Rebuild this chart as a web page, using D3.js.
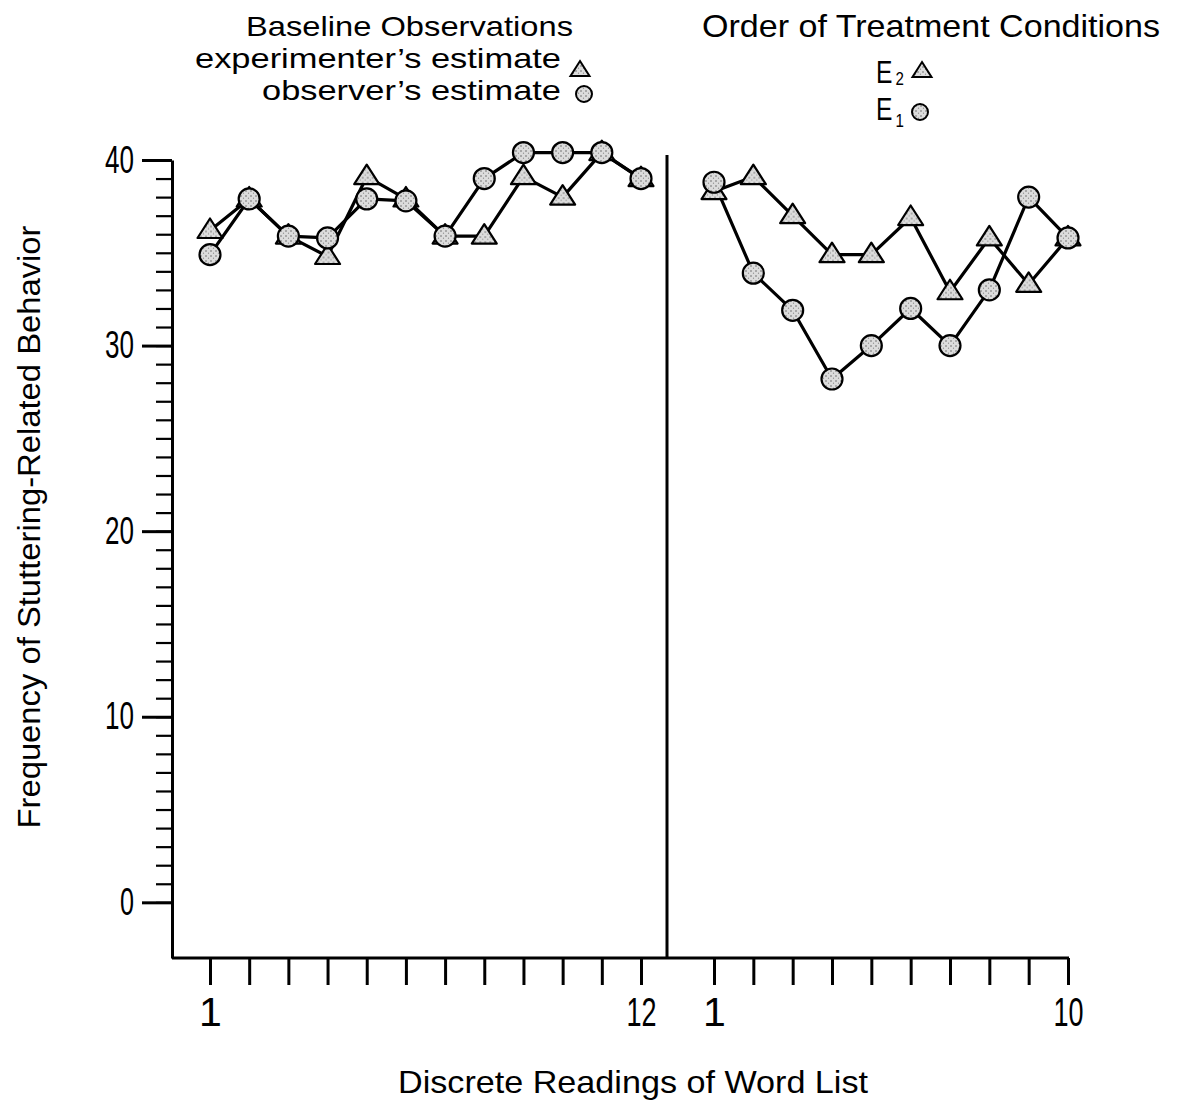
<!DOCTYPE html>
<html>
<head>
<meta charset="utf-8">
<script src="https://cdn.jsdelivr.net/npm/d3@7"></script>
<style>
  body { margin: 0; background: #fff; }
  svg text {
    font-family: "Liberation Sans", "DejaVu Sans Condensed", "DejaVu Sans", sans-serif;
    fill: #000;
  }
</style>
</head>
<body>
<div id="chart"></div>
<script>
// Baseline panel (12 readings)
const baselineReadings = [1, 2, 3, 4, 5, 6, 7, 8, 9, 10, 11, 12];
const experimenterEstimate = [36.2, 37.9, 35.9, 34.8, 39.1, 37.9, 35.9, 35.9, 39.1, 38.0, 40.4, 39.0];
const observerEstimate = [34.9, 37.9, 35.9, 35.8, 37.9, 37.8, 35.9, 39.0, 40.4, 40.4, 40.4, 39.0];

// Treatment panel (10 readings)
const treatmentReadings = [1, 2, 3, 4, 5, 6, 7, 8, 9, 10];
const e2Values = [38.3, 39.1, 37.0, 34.9, 34.9, 36.9, 32.9, 35.8, 33.3, 35.8];
const e1Values = [38.8, 33.9, 31.9, 28.2, 30.0, 32.0, 30.0, 33.0, 38.0, 35.8];

// Tick labels
const yMajorTicks = [0, 10, 20, 30, 40];
const yMinorTicks = [0, 1, 2, 3, 4, 5, 6, 7, 8, 9, 10, 11, 12, 13, 14, 15, 16, 17, 18, 19, 20,
  21, 22, 23, 24, 25, 26, 27, 28, 29, 30, 31, 32, 33, 34, 35, 36, 37, 38, 39, 40];
const baselineTickLabels = { 1: "1", 12: "12" };
const treatmentTickLabels = { 1: "1", 10: "10" };

const W = 1177, H = 1107;
const axisX = 172, dividerX = 667, axisBottom = 958;

const svg = d3.select("#chart").append("svg")
  .attr("width", W).attr("height", H);

// stipple fill for the markers
const pat = svg.append("defs").append("pattern")
  .attr("id", "stipple").attr("width", 5).attr("height", 5)
  .attr("patternUnits", "userSpaceOnUse");
pat.append("rect").attr("width", 5).attr("height", 5).attr("fill", "#dcdcdc");
pat.append("circle").attr("cx", 1).attr("cy", 1).attr("r", 0.8).attr("fill", "#666");
pat.append("circle").attr("cx", 3.5).attr("cy", 3.2).attr("r", 0.6).attr("fill", "#888");

const y = d3.scaleLinear().domain([-3, 40]).range([axisBottom, 160]);
const xLeft = d3.scaleLinear().domain([1, 12]).range([210, 641]);
const xRight = d3.scaleLinear().domain([1, 10]).range([714, 1068]);

// Y axis: minor ticks
svg.append("g")
  .attr("transform", `translate(${axisX},0)`)
  .call(d3.axisLeft(y).tickValues(yMinorTicks).tickSize(16).tickSizeOuter(0).tickFormat(""))
  .call(g => g.select(".domain").attr("stroke-width", 3))
  .call(g => g.selectAll(".tick line").attr("stroke-width", 2.2));

// Y axis: major ticks + labels
svg.append("g")
  .attr("transform", `translate(${axisX},0)`)
  .call(d3.axisLeft(y).tickValues(yMajorTicks).tickSize(30).tickPadding(8).tickSizeOuter(0))
  .call(g => g.select(".domain").remove())
  .call(g => g.selectAll(".tick line").attr("stroke-width", 3))
  .call(g => g.selectAll(".tick text")
    .attr("font-size", 38)
    .attr("textLength", d => d === 0 ? 14 : 29)
    .attr("lengthAdjust", "spacingAndGlyphs"));

// divider line between panels
svg.append("line")
  .attr("x1", dividerX).attr("x2", dividerX)
  .attr("y1", 155).attr("y2", axisBottom)
  .attr("stroke", "#000").attr("stroke-width", 3);

// bottom axis line
svg.append("line")
  .attr("x1", axisX).attr("x2", xRight.range()[1] + 1)
  .attr("y1", axisBottom).attr("y2", axisBottom)
  .attr("stroke", "#000").attr("stroke-width", 3);

function xAxis(scale, values, labels) {
  svg.append("g")
    .attr("transform", `translate(0,${axisBottom})`)
    .call(d3.axisBottom(scale).tickValues(values).tickSize(27).tickPadding(12)
      .tickFormat(d => labels[d] || ""))
    .call(g => g.select(".domain").remove())
    .call(g => g.selectAll(".tick line").attr("stroke-width", 3))
    .call(g => g.selectAll(".tick text")
      .attr("font-size", 41)
      .filter(d => labels[d] && labels[d].length > 1)
      .attr("textLength", 30)
      .attr("lengthAdjust", "spacingAndGlyphs"));
}
xAxis(xLeft, baselineReadings, baselineTickLabels);
xAxis(xRight, treatmentReadings, treatmentTickLabels);

// series
const triPath = "M0,-12L12.5,7.5L-12.5,7.5Z";

function series(scale, xs, vals) {
  const pts = xs.map((d, i) => [scale(d), y(vals[i])]);
  svg.append("path")
    .attr("d", d3.line()(pts))
    .attr("fill", "none").attr("stroke", "#000").attr("stroke-width", 3.2)
    .attr("stroke-linejoin", "round");
  return pts;
}

function drawMarkers(pts, marker) {
  const g = svg.append("g");
  if (marker === "circle") {
    g.selectAll("circle").data(pts).join("circle")
      .attr("cx", d => d[0]).attr("cy", d => d[1]).attr("r", 10.5)
      .attr("fill", "url(#stipple)").attr("stroke", "#000").attr("stroke-width", 2.2);
  } else {
    g.selectAll("path").data(pts).join("path")
      .attr("d", triPath)
      .attr("transform", d => `translate(${d[0]},${d[1]})`)
      .attr("fill", "url(#stipple)").attr("stroke", "#000").attr("stroke-width", 2.2)
      .attr("stroke-linejoin", "round");
  }
}

const expPts = series(xLeft, baselineReadings, experimenterEstimate);
const obsPts = series(xLeft, baselineReadings, observerEstimate);
const e2Pts = series(xRight, treatmentReadings, e2Values);
const e1Pts = series(xRight, treatmentReadings, e1Values);
drawMarkers(expPts, "triangle");
drawMarkers(obsPts, "circle");
drawMarkers(e2Pts, "triangle");
drawMarkers(e1Pts, "circle");

// titles / legends
function label(txt, x, yy, size, len, anchor) {
  return svg.append("text")
    .attr("x", x).attr("y", yy)
    .attr("font-size", size)
    .attr("text-anchor", anchor || "start")
    .attr("textLength", len)
    .attr("lengthAdjust", "spacingAndGlyphs")
    .text(txt);
}

label("Baseline Observations", 246, 36, 28, 327);
label("experimenter\u2019s estimate", 195, 68, 28, 366);
label("observer\u2019s estimate", 262, 100, 28, 299);
label("Order of Treatment Conditions", 702, 37, 32, 458);

svg.append("path").attr("d", "M0,-9L9.5,6L-9.5,6Z")
  .attr("transform", "translate(580,70)")
  .attr("fill", "url(#stipple)").attr("stroke", "#000").attr("stroke-width", 2);
svg.append("circle").attr("cx", 584).attr("cy", 94).attr("r", 8)
  .attr("fill", "url(#stipple)").attr("stroke", "#000").attr("stroke-width", 2);

// E with subscript, as one text element
function subLabel(main, sub, x, yy, subDy) {
  const t = svg.append("text").attr("x", x).attr("y", yy).attr("font-size", 31)
    .attr("textLength", 28).attr("lengthAdjust", "spacingAndGlyphs");
  t.append("tspan").text(main);
  t.append("tspan").attr("dx", 4).attr("dy", subDy).attr("font-size", 19).text(sub);
}
subLabel("E", "2", 876, 83, 2);
subLabel("E", "1", 876, 120, 7);

svg.append("path").attr("d", "M0,-9L9.5,6L-9.5,6Z")
  .attr("transform", "translate(922,71)")
  .attr("fill", "url(#stipple)").attr("stroke", "#000").attr("stroke-width", 2);
svg.append("circle").attr("cx", 920).attr("cy", 112).attr("r", 8)
  .attr("fill", "url(#stipple)").attr("stroke", "#000").attr("stroke-width", 2);

// axis titles
svg.append("text")
  .attr("transform", "translate(40,527) rotate(-90)")
  .attr("text-anchor", "middle")
  .attr("font-size", 32)
  .attr("textLength", 603)
  .attr("lengthAdjust", "spacingAndGlyphs")
  .text("Frequency of Stuttering-Related Behavior");

svg.append("text")
  .attr("x", 633).attr("y", 1093)
  .attr("text-anchor", "middle")
  .attr("font-size", 32)
  .attr("textLength", 470)
  .attr("lengthAdjust", "spacingAndGlyphs")
  .text("Discrete Readings of Word List");
</script>
</body>
</html>
